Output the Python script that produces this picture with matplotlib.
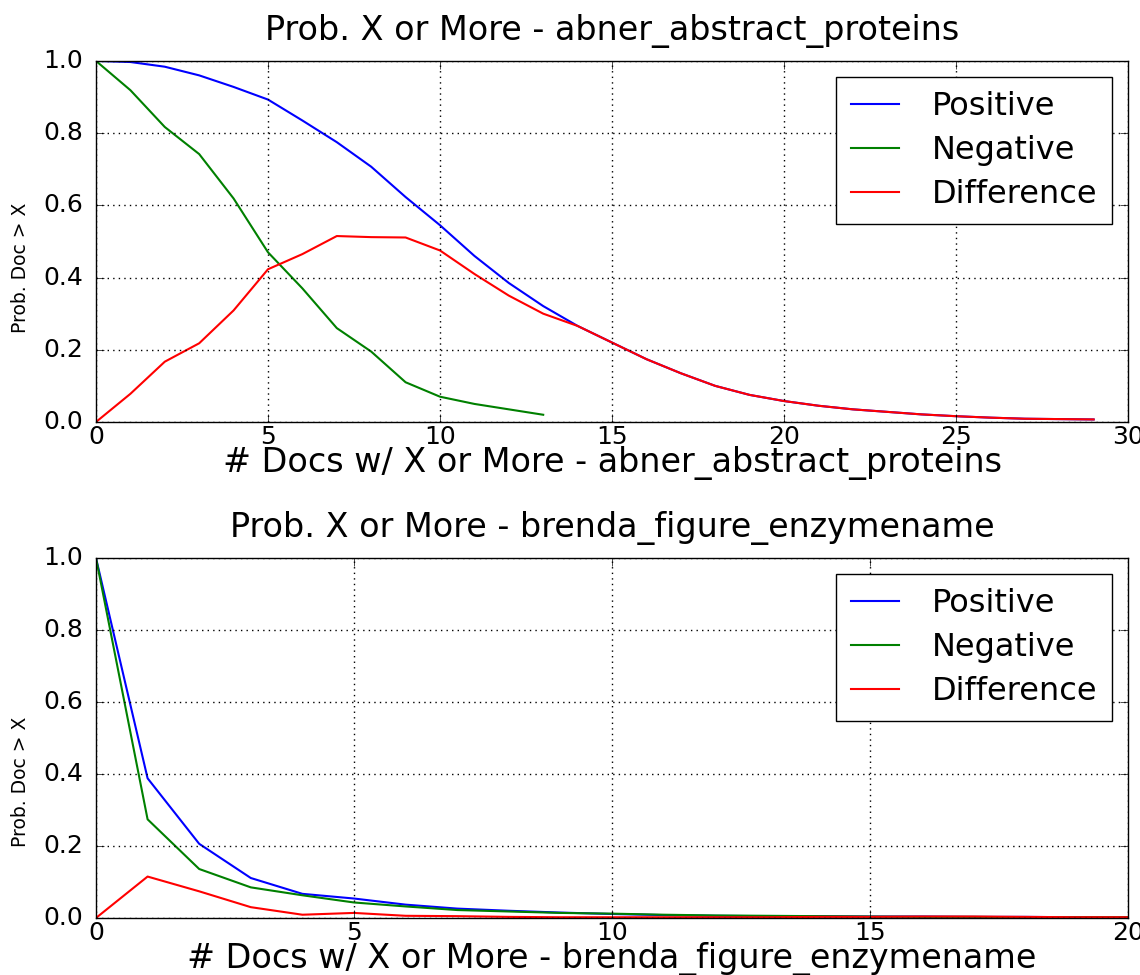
import numpy as np
import matplotlib
matplotlib.use("Agg")
import matplotlib.pyplot as plt

# abner_abstract_proteins
x1 = np.arange(30)
pos1 = [1.0, 0.997, 0.984, 0.96, 0.928, 0.893, 0.835, 0.775, 0.707, 0.623,
        0.545, 0.46, 0.385, 0.321, 0.266, 0.22, 0.174, 0.135, 0.10, 0.075,
        0.058, 0.045, 0.035, 0.028, 0.021, 0.016, 0.012, 0.009, 0.008, 0.007]
neg1 = [1.0, 0.919, 0.817, 0.742, 0.619, 0.47, 0.37, 0.26, 0.195, 0.11,
        0.07, 0.05, 0.035, 0.02]
diff1 = [0.0, 0.078, 0.167, 0.218, 0.309, 0.423, 0.465, 0.515, 0.512, 0.511,
         0.475, 0.41, 0.35, 0.30, 0.266, 0.22, 0.174, 0.135, 0.10, 0.075,
         0.058, 0.045, 0.035, 0.028, 0.021, 0.016, 0.012, 0.009, 0.008, 0.007]

# brenda_figure_enzymename
x2 = np.arange(21)
pos2 = [1.0, 0.388, 0.206, 0.111, 0.067, 0.054, 0.037, 0.026, 0.02, 0.015,
        0.011, 0.008, 0.006, 0.005, 0.005, 0.004, 0.004, 0.003, 0.003, 0.002, 0.002]
neg2 = [1.0, 0.274, 0.136, 0.085, 0.063, 0.043, 0.032, 0.022, 0.018, 0.014,
        0.012, 0.009, 0.007, 0.006, 0.005, 0.004, 0.003, 0.003, 0.002, 0.002, 0.002]
diff2 = [0.0, 0.115, 0.074, 0.03, 0.009, 0.014, 0.006, 0.005, 0.003, 0.002,
         0.002, 0.002, 0.002, 0.002, 0.003, 0.003, 0.004, 0.004, 0.003, 0.002, 0.002]

plt.style.use('classic')
plt.rcParams['font.family'] = 'DejaVu Sans'

fig = plt.figure(figsize=(11.4, 9.75), dpi=100, facecolor='white')
ax1 = fig.add_axes([0.0842, 0.5672, 0.9053, 0.3703])
ax2 = fig.add_axes([0.0842, 0.0585, 0.9053, 0.3692])

panels = [
    (ax1, x1, pos1, neg1, diff1, 'abner_abstract_proteins', 30, 0.427),
    (ax2, x2, pos2, neg2, diff2, 'brenda_figure_enzymename', 20, 0.378),
]

for ax, x, pos, neg, diff, name, xmax, ylab_y in panels:
    ax.plot(x[:len(pos)], pos, color='b', linewidth=1.5, label='Positive')
    ax.plot(x[:len(neg)], neg, color='g', linewidth=1.5, label='Negative')
    ax.plot(x[:len(diff)], diff, color='r', linewidth=1.5, label='Difference')
    ax.set_xlim(0, xmax)
    ax.set_ylim(0, 1.0)
    ax.grid(True, color='k', linestyle=':', linewidth=1)
    ax.tick_params(labelsize=18, length=6)
    ax.tick_params(axis='x', pad=2)
    ax.tick_params(axis='y', pad=9)
    ax.set_title('Prob. X or More - ' + name, fontsize=24, pad=15)
    ax.set_xlabel('# Docs w/ X or More - ' + name, fontsize=24, labelpad=-2)
    ax.set_ylabel('Prob. Doc > X', fontsize=13.5)
    ax.yaxis.set_label_coords(-0.064, ylab_y)
    ax.legend(loc='upper right', fontsize=23, handlelength=1.5,
              borderpad=0.45, labelspacing=0.4, handletextpad=1.05,
              borderaxespad=0.5, numpoints=1, fancybox=False)

fig.savefig('out.png', dpi=100, facecolor='white')
